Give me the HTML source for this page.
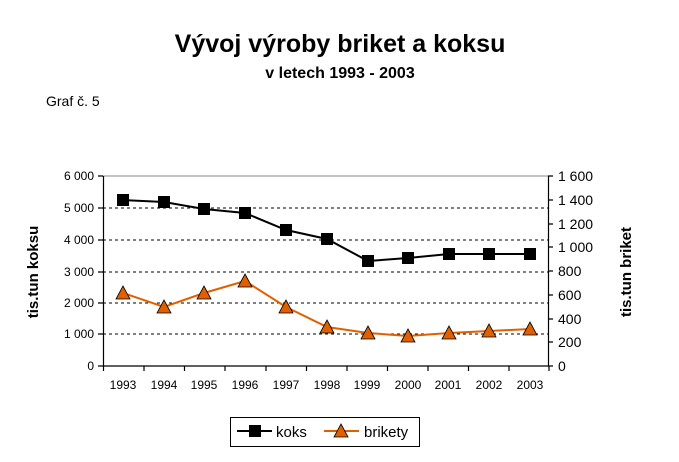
<!DOCTYPE html><html><head><style>body{margin:0;background:#fff}svg{display:block}text{font-family:"Liberation Sans",Arial,sans-serif}</style></head><body>
<svg width="679" height="462" viewBox="0 0 679 462">
<text x="340" y="52" font-size="25" font-weight="bold" text-anchor="middle">Vývoj výroby briket a koksu</text>
<text x="340" y="78" font-size="16" font-weight="bold" text-anchor="middle">v letech 1993 - 2003</text>
<text x="46" y="106" font-size="14">Graf č. 5</text>
<line x1="103" y1="176" x2="548" y2="176" stroke="#888"/>
<g stroke="#000" stroke-dasharray="3,3"><line x1="103" y1="208" x2="548" y2="208"/><line x1="103" y1="240" x2="548" y2="240"/><line x1="103" y1="272" x2="548" y2="272"/><line x1="103" y1="303" x2="548" y2="303"/><line x1="103" y1="334" x2="548" y2="334"/></g>
<g stroke="#000" stroke-width="1.2" fill="none">
<path d="M103.5 176V366M548.5 176V366M103 366H549"/>
<path d="M98 176H103M98 208H103M98 240H103M98 272H103M98 303H103M98 334H103M98 366H103"/>
<path d="M548 176H553M548 200H553M548 224H553M548 247H553M548 271H553M548 295H553M548 319H553M548 342H553M548 366H553"/>
<path d="M103.5 366v5M144 366v5M184.5 366v5M225 366v5M266 366v5M306.5 366v5M347 366v5M387.5 366v5M428 366v5M468.5 366v5M509 366v5M549 366v5"/>
</g>
<g font-size="12" text-anchor="end"><text x="94" y="180">6 000</text><text x="94" y="212">5 000</text><text x="94" y="244">4 000</text><text x="94" y="276">3 000</text><text x="94" y="307">2 000</text><text x="94" y="338">1 000</text><text x="94" y="370">0</text></g>
<g font-size="14"><text x="558" y="181">1 600</text><text x="558" y="205">1 400</text><text x="558" y="229">1 200</text><text x="558" y="252">1 000</text><text x="558" y="276">800</text><text x="558" y="300">600</text><text x="558" y="324">400</text><text x="558" y="347">200</text><text x="558" y="371">0</text></g>
<g font-size="12" text-anchor="middle"><text x="123" y="389">1993</text><text x="164" y="389">1994</text><text x="204" y="389">1995</text><text x="245" y="389">1996</text><text x="286" y="389">1997</text><text x="327" y="389">1998</text><text x="367" y="389">1999</text><text x="408" y="389">2000</text><text x="448" y="389">2001</text><text x="489" y="389">2002</text><text x="530" y="389">2003</text></g>
<text transform="translate(38 272) rotate(-90)" font-size="15" font-weight="bold" text-anchor="middle">tis.tun koksu</text>
<text transform="translate(631 272) rotate(-90)" font-size="15" font-weight="bold" text-anchor="middle">tis.tun briket</text>
<polyline points="123,200 164,202 204,209 245,213 286,230 327,239 368,261 408,258 449,254 489,254 530,254" fill="none" stroke="#000" stroke-width="2"/>
<g fill="#000"><rect x="117" y="194" width="12" height="12"/><rect x="158" y="196" width="12" height="12"/><rect x="198" y="203" width="12" height="12"/><rect x="239" y="207" width="12" height="12"/><rect x="280" y="224" width="12" height="12"/><rect x="321" y="233" width="12" height="12"/><rect x="362" y="255" width="12" height="12"/><rect x="402" y="252" width="12" height="12"/><rect x="443" y="248" width="12" height="12"/><rect x="483" y="248" width="12" height="12"/><rect x="524" y="248" width="12" height="12"/></g>
<polyline points="123,293 164,307 204,293 245,281 286,307 327,327 368,333 408,336 449,333 489,331 530,329" fill="none" stroke="#e06000" stroke-width="2"/>
<g fill="#e06000" stroke="#000" stroke-width="0.8">
<polygon points="123,286 130,299 116,299"/><polygon points="164,300 171,313 157,313"/><polygon points="204,286 211,299 197,299"/><polygon points="245,274 252,287 238,287"/><polygon points="286,300 293,313 279,313"/><polygon points="327,320 334,333 320,333"/><polygon points="368,326 375,339 361,339"/><polygon points="408,329 415,342 401,342"/><polygon points="449,326 456,339 442,339"/><polygon points="489,324 496,337 482,337"/><polygon points="530,322 537,335 523,335"/>
</g>
<rect x="230.5" y="417.5" width="189" height="29" fill="none" stroke="#000"/>
<line x1="237" y1="431" x2="272" y2="431" stroke="#000" stroke-width="2"/><rect x="249" y="425" width="12" height="12"/>
<text x="276" y="437" font-size="15">koks</text>
<line x1="324" y1="431" x2="359" y2="431" stroke="#e06000" stroke-width="2"/><polygon points="341,424 348,437 334,437" fill="#e06000" stroke="#000" stroke-width="0.8"/>
<text x="364" y="437" font-size="15">brikety</text>
</svg></body></html>
